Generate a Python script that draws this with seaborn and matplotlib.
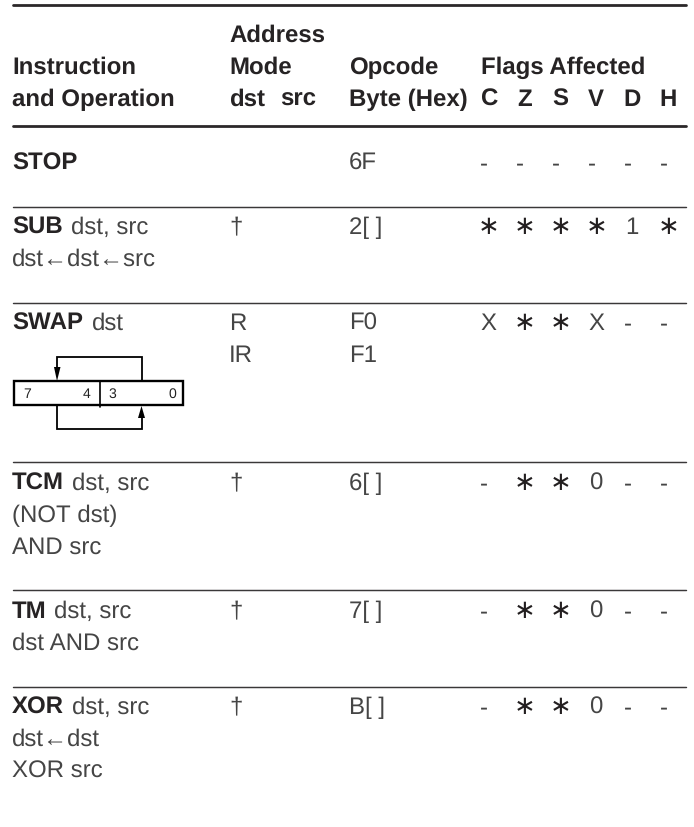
import matplotlib
matplotlib.use("Agg")
import matplotlib.pyplot as plt
import seaborn as sns
import pandas as pd

sns.set_theme(style="white")
plt.rcParams['font.family'] = ['Liberation Sans', 'DejaVu Sans']
plt.rcParams['text.hinting'] = 'none'
plt.rcParams['text.hinting_factor'] = 1

W, H = 694, 827
INK = "#231f20"
TXT = "#454545"
BOLD = "#262324"

flag_names = ["C", "Z", "S", "V", "D", "H"]
flag_x = [489, 525, 561, 597, 633, 669]
stop_flags = ["-", "-", "-", "-", "-", "-"]
sub_flags = ["*", "*", "*", "*", "1", "*"]
swap_flags = ["X", "*", "*", "X", "-", "-"]
tcm_flags = ["-", "*", "*", "0", "-", "-"]
tm_flags = ["-", "*", "*", "0", "-", "-"]
xor_flags = ["-", "*", "*", "0", "-", "-"]
flag_rows = [(170, stop_flags), (234, sub_flags), (330, swap_flags),
             (490, tcm_flags), (618, tm_flags), (714, xor_flags)]

thin_rules = [206.5, 303, 462, 590, 686.5]
thick_rules = [4.5, 125.7]

fig = plt.figure(figsize=(W / 100, H / 100), dpi=100, facecolor="white")
ax = fig.add_axes([0, 0, 1, 1])

def rule(y, lw, color=INK, x0=13, x1=686):
    d = pd.DataFrame({"x": [x0, x1], "y": [y, y]})
    sns.lineplot(data=d, x="x", y="y", ax=ax, color=color, lw=lw, estimator=None, sort=False, legend=False)

for y in thick_rules:
    rule(y, 2.0, "#2b2829")
for y in thin_rules:
    rule(y, 1.05, "#3a3839")
ax.set_xlim(0, W)
ax.set_ylim(H, 0)
ax.axis("off")

FS = 17.2
def t(x, y, s, bold=False, ha="left", size=FS, color=TXT):
    ax.text(x - 0.8, y, s, fontsize=size, ha=ha, va="baseline", color=BOLD if bold else color,
            fontweight="bold" if bold else "normal")

for x, y, s in [(230, 42, "Address"), (13, 74, "Instruction"), (230, 74, "Mode"),
                (350, 74, "Opcode"), (482, 74, "Flags Affected"),
                (13, 106, "and Operation"), (230, 106, "dst"), (281, 106, "src"),
                (350, 106, "Byte (Hex)")]:
    t(x, y, s, bold=True)
for x, n in zip(flag_x, flag_names):
    t(x, 106, n, bold=True, ha="center")

for y, b, rest_x, rest in [(170, "STOP", 0, ""), (234, "SUB", 71.5, "dst, src"),
                           (330, "SWAP", 92.5, "dst"), (490, "TCM", 72.5, "dst, src"),
                           (618, "TM", 55, "dst, src"), (714, "XOR", 72.5, "dst, src")]:
    t(13, y, b, bold=True)
    if rest:
        t(rest_x, y, rest)

for y, s in [(266, "dst←dst←src"), (522, "(NOT dst)"), (554, "AND src"),
             (650, "dst AND src"), (746, "dst←dst"), (778, "XOR src")]:
    t(13, y, s)

for x, y, s in [(230, 234, "†"), (230, 330, "R"), (230, 362, "IR"), (230, 490, "†"),
                (230, 618, "†"), (230, 714, "†"),
                (350, 170, "6F"), (350, 234, "2[ ]"), (350, 330, "F0"), (350, 362, "F1"),
                (350, 490, "6[ ]"), (350, 618, "7[ ]"), (350, 714, "B[ ]")]:
    t(x, y, s)

for y, row in flag_rows:
    for x, s in zip(flag_x, row):
        if s == "*":
            ax.text(x, y - 7, "∗", fontsize=19, ha="center", va="center", color=INK,
                    family="DejaVu Sans")
        elif s == "-":
            t(x - 4, y, s, ha="center")
        else:
            t(x, y, s, ha="center")

# SWAP nibble diagram
ax.add_patch(plt.Rectangle((14.5, 381), 169, 24, fill=False, ec="black", lw=1.7))
ax.plot([100, 100], [381, 407], color="black", lw=1.2)
ax.plot([57.5, 57.5, 142, 142], [375, 357, 357, 381], color="black", lw=1.3, solid_joinstyle="miter")
ax.plot([57.5, 57.5, 142, 142], [405, 429, 429, 414], color="black", lw=1.3, solid_joinstyle="miter")
ax.add_patch(plt.Polygon([(54, 367), (60.5, 367), (57, 381)], fc="black", ec="none"))
ax.add_patch(plt.Polygon([(138, 418), (145, 418), (141.5, 406)], fc="black", ec="none"))
for x, s in [(27, "7"), (87, "4"), (112, "3"), (172, "0")]:
    ax.text(x, 397.5, s, fontsize=10, ha="center", va="baseline", color="#222222")

fig.savefig("out.png", dpi=100, facecolor="white")
